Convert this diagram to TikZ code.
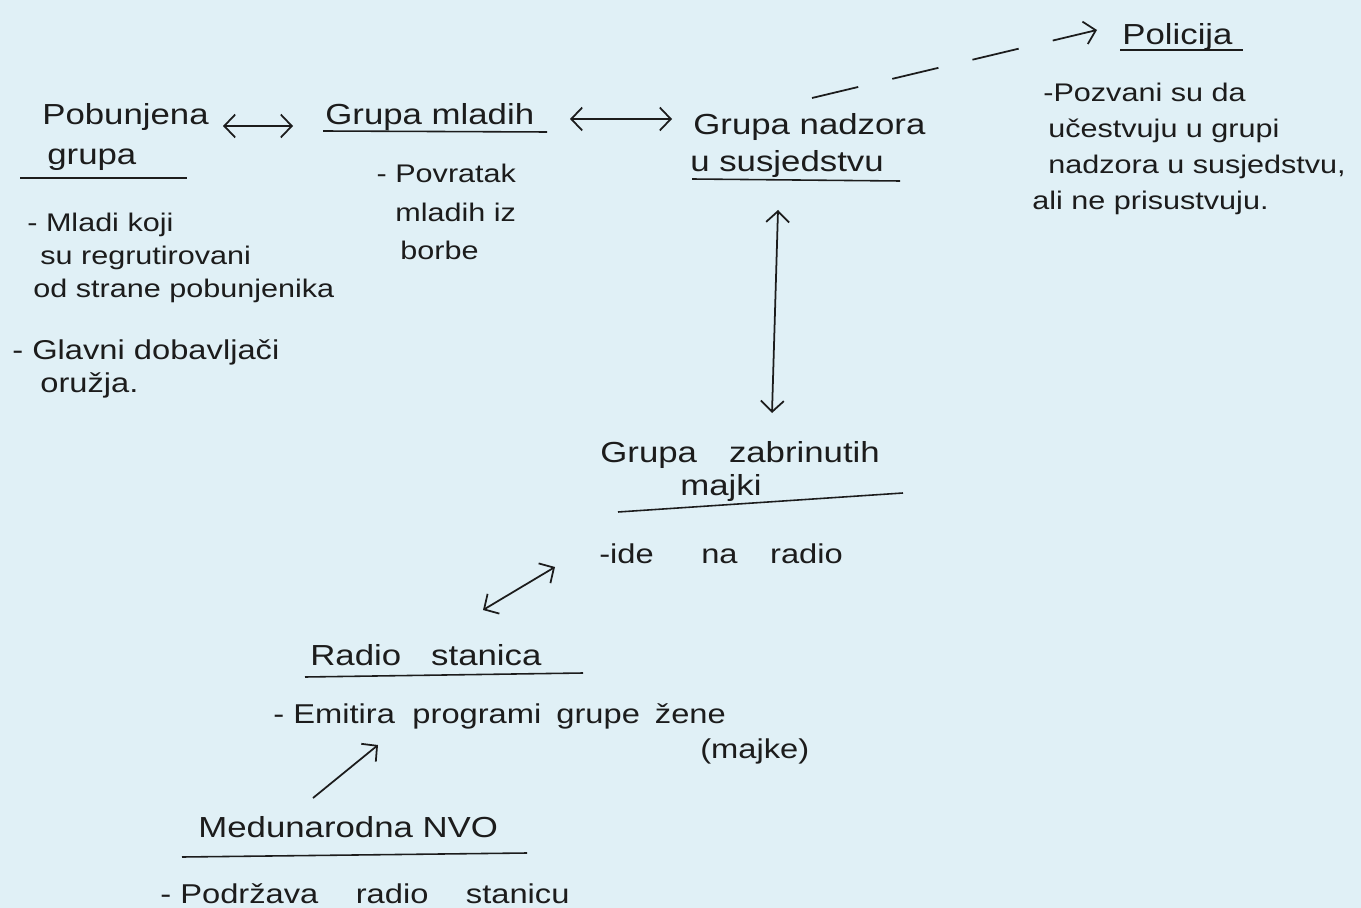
\documentclass[tikz,border=0pt]{standalone}
\usepackage{fontspec}
\setmainfont{Liberation Sans}[FakeStretch=1.2]
\usepackage{tikz}
\usepackage{xcolor}
\usetikzlibrary{arrows.meta, positioning, calc}
\definecolor{paper}{RGB}{224,240,246}
\definecolor{ink}{RGB}{28,28,28}

\begin{document}
\begin{tikzpicture}[x=0.02cm, y=-0.02cm, % one unit = one pixel of the sketch
    hand/.style={anchor=base west, inner sep=0pt, text=ink, align=left, font=\fontsize{14.5}{20}\selectfont},
    big/.style={hand, font=\fontsize{15.5}{20}\selectfont},
    title/.style={hand, font=\fontsize{16.5}{20}\selectfont},
    link/.style={draw=ink, line width=1pt, {Straight Barb[length=2.2mm,width=4.6mm]}-{Straight Barb[length=2.2mm,width=4.6mm]}},
    oneway/.style={draw=ink, line width=1pt, -{Straight Barb[length=2.2mm,width=4.6mm]}},
    uline/.style={draw=ink, line width=0.9pt}]
                \fill[paper] (0,0) rectangle (1361,908);
                \useasboundingbox (0,0) rectangle (1361,908);
                % groups (multi-line nodes sit on their last line)
                \node[title] (pob1) at (42,125) {Pobunjena};
                \node[title] (pob2) at (47,165) {grupa};
                \node[hand, font=\fontsize{14.5}{18.8}\selectfont] (pobtxt) at (27,298) {- Mladi koji\\\hspace*{0.26cm}su regrutirovani\\\hspace*{0.12cm}od strane pobunjenika};
                \node[big, font=\fontsize{15.5}{18.8}\selectfont] (pobdob) at (12,393) {- Glavni dobavljači\\\hspace*{0.56cm}oružja.};
                \node[title] (mladih) at (325,125) {Grupa mladih};
                \node[hand, font=\fontsize{14.5}{22}\selectfont] (mladtxt) at (395,260) {\llap{- }Povratak\\mladih iz\\\hspace*{0.1cm}borbe};
                \node[title] (nadzor1) at (693,135) {Grupa nadzora};
                \node[title] (nadzor2) at (690,172) {u susjedstvu};
                \node[title] (policija) at (1122,45) {Policija};
                \node[hand, font=\fontsize{14.5}{20.5}\selectfont] (poltxt) at (1032,210) {\hspace*{0.22cm}-Pozvani su da\\\hspace*{0.32cm}učestvuju u grupi\\\hspace*{0.32cm}nadzora u susjedstvu,\\ali ne prisustvuju.};
                \node[title] (majke1) at (600,462) {Grupa\hspace{0.64cm}zabrinutih};
                \node[title] (majke2) at (680,495) {majki};
                \node[big] (majtxt) at (599,563) {-ide\hspace{0.95cm}na\hspace{0.65cm}radio};
                \node[title] (radio) at (310,665) {Radio\hspace{0.6cm}stanica};
                \node[big] (radtxt) at (273,723) {- Emitira\hspace{0.35cm}programi\hspace{0.3cm}grupe\hspace{0.3cm}žene};
                \node[big] (radmaj) at (700,758) {(majke)};
                \node[title] (nvo) at (198,837) {Medunarodna NVO};
                \node[big] (nvotxt) at (160,903) {- Podržava\hspace{0.75cm}radio\hspace{0.75cm}stanicu};
                % underlines
                \draw[uline] (20,178) -- (187,178);
                \draw[uline] (323,131) -- (547,132);
                \draw[uline] (692,179) -- (900,181);
                \draw[uline] (1120,50) -- (1243,50);
                \draw[uline] (618,512) -- (903,493);
                \draw[uline] (305,677) -- (583,673);
                \draw[uline] (182,857) -- (527,853);
                % connectors
                \draw[link] ([shift={(181,1)}]pob1.base west) -- ([shift={(-32,1)}]mladih.base west);
                \draw[link] ([shift={(245,-6)}]mladih.base west) -- ([shift={(-21,-16)}]nadzor1.base west);
                \draw[oneway, dash pattern=on 0.95cm off 0.7cm] ([shift={(119,-37)}]nadzor1.base west) -- ([shift={(-25,-15)}]policija.base west);
                \draw[link] ([shift={(88,38)}]nadzor2.base west) -- ([shift={(172,-49)}]majke1.base west);
                \draw[link] ([shift={(-44,4)}]majtxt.base west) -- ([shift={(173,-55)}]radio.base west);
                \draw[oneway] ([shift={(115,-39)}]nvo.base west) -- ([shift={(105,22)}]radtxt.base west);
            \end{tikzpicture}
\end{document}
